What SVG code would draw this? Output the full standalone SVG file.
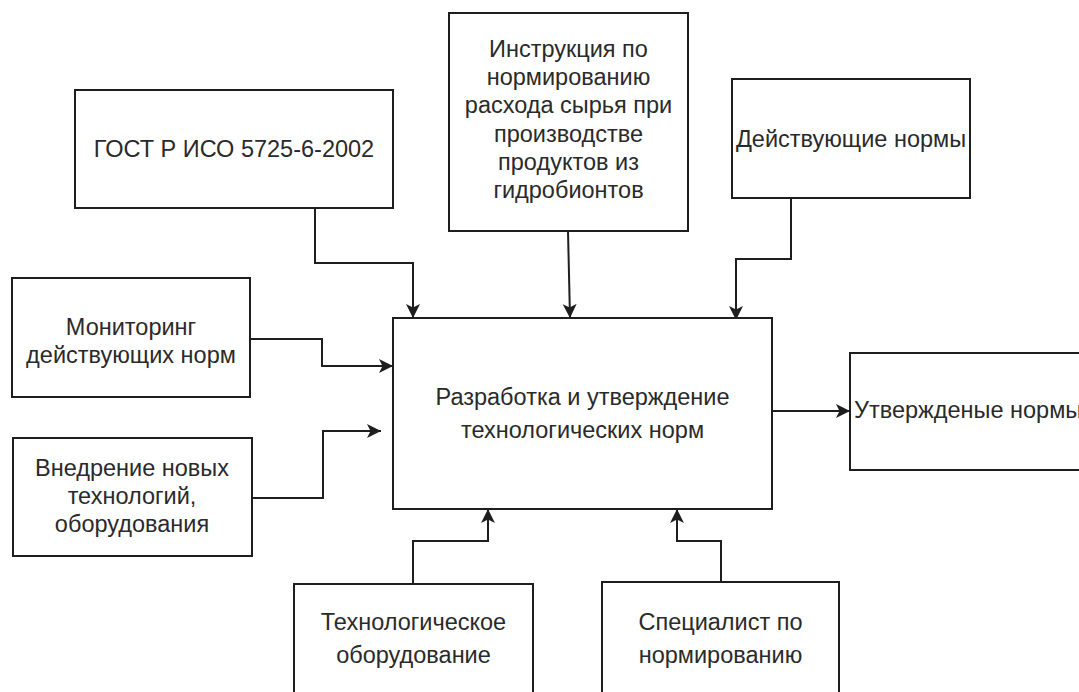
<svg xmlns="http://www.w3.org/2000/svg" width="1079" height="692" viewBox="0 0 1079 692">
  <style>
    .box { fill: #ffffff; stroke: #1e1e1e; stroke-width: 2; }
    .lbl { font-family: "Liberation Sans", Arial, sans-serif; font-size: 23.5px; fill: #2a2a2a; text-anchor: middle; }
    .lbl-start { text-anchor: start; }
    .wire { fill: none; stroke: #1e1e1e; stroke-width: 2; marker-end: url(#arrow); }
  </style>
  <defs>
    <!-- notched block arrowhead shared by all connectors -->
    <marker id="arrow" markerUnits="userSpaceOnUse" markerWidth="16" markerHeight="16" viewBox="0 0 16 16" refX="15" refY="8" orient="auto">
      <path d="M1,1 L15,8 L1,15 L4.5,8 Z" fill="#1e1e1e"/>
    </marker>
  </defs>
  <rect width="1079" height="692" fill="#ffffff"/>

  <!-- Connectors -->
  <g id="connectors">
    <path class="wire" d="M315,208 V263 H413 V318"/>
    <path class="wire" d="M568,231 L570,318"/>
    <path class="wire" d="M791,198 V259 H736 V320"/>
    <path class="wire" d="M250,339 H322 V366 H393"/>
    <path class="wire" d="M252,498 H323 V431 H381"/>
    <path class="wire" d="M772,411 H850"/>
    <path class="wire" d="M413,584 V541 H488 V509"/>
    <path class="wire" d="M721,582 V541 H677 V509"/>
  </g>

  <!-- Nodes -->
  <g id="gost">
    <rect class="box" x="75" y="90" width="318" height="118"/>
    <text class="lbl" x="234" y="157">ГОСТ Р ИСО 5725-6-2002</text>
  </g>

  <g id="instruction">
    <rect class="box" x="449" y="13" width="239" height="218"/>
    <text class="lbl" x="568.5" y="57">Инструкция по</text>
    <text class="lbl" x="568.5" y="85.2">нормированию</text>
    <text class="lbl" x="568.5" y="113.4">расхода сырья при</text>
    <text class="lbl" x="568.5" y="141.6">производстве</text>
    <text class="lbl" x="568.5" y="169.8">продуктов из</text>
    <text class="lbl" x="568.5" y="198">гидробионтов</text>
  </g>

  <g id="current-norms">
    <rect class="box" x="732" y="79" width="238" height="119"/>
    <text class="lbl" x="851" y="147">Действующие нормы</text>
  </g>

  <g id="monitoring">
    <rect class="box" x="12" y="278" width="238" height="119"/>
    <text class="lbl" x="131" y="335">Мониторинг</text>
    <text class="lbl" x="131" y="363">действующих норм</text>
  </g>

  <g id="new-tech">
    <rect class="box" x="13" y="438" width="239" height="118"/>
    <text class="lbl" x="132" y="476">Внедрение новых</text>
    <text class="lbl" x="132" y="504">технологий,</text>
    <text class="lbl" x="132" y="532">оборудования</text>
  </g>

  <g id="development">
    <rect class="box" x="393" y="318" width="379" height="191"/>
    <text class="lbl" x="582.5" y="405">Разработка и утверждение</text>
    <text class="lbl" x="582.5" y="438">технологических норм</text>
  </g>

  <!-- box runs past the right edge of the canvas -->
  <g id="approved">
    <rect class="box" x="850" y="353" width="260" height="117"/>
    <text class="lbl lbl-start" x="854" y="418">Утвержденые нормы</text>
  </g>

  <g id="equipment">
    <rect class="box" x="294" y="584" width="239" height="140"/>
    <text class="lbl" x="413.5" y="630">Технологическое</text>
    <text class="lbl" x="413.5" y="663">оборудование</text>
  </g>

  <g id="specialist">
    <rect class="box" x="602" y="582" width="237" height="140"/>
    <text class="lbl" x="720.5" y="630">Специалист по</text>
    <text class="lbl" x="720.5" y="663">нормированию</text>
  </g>
</svg>
